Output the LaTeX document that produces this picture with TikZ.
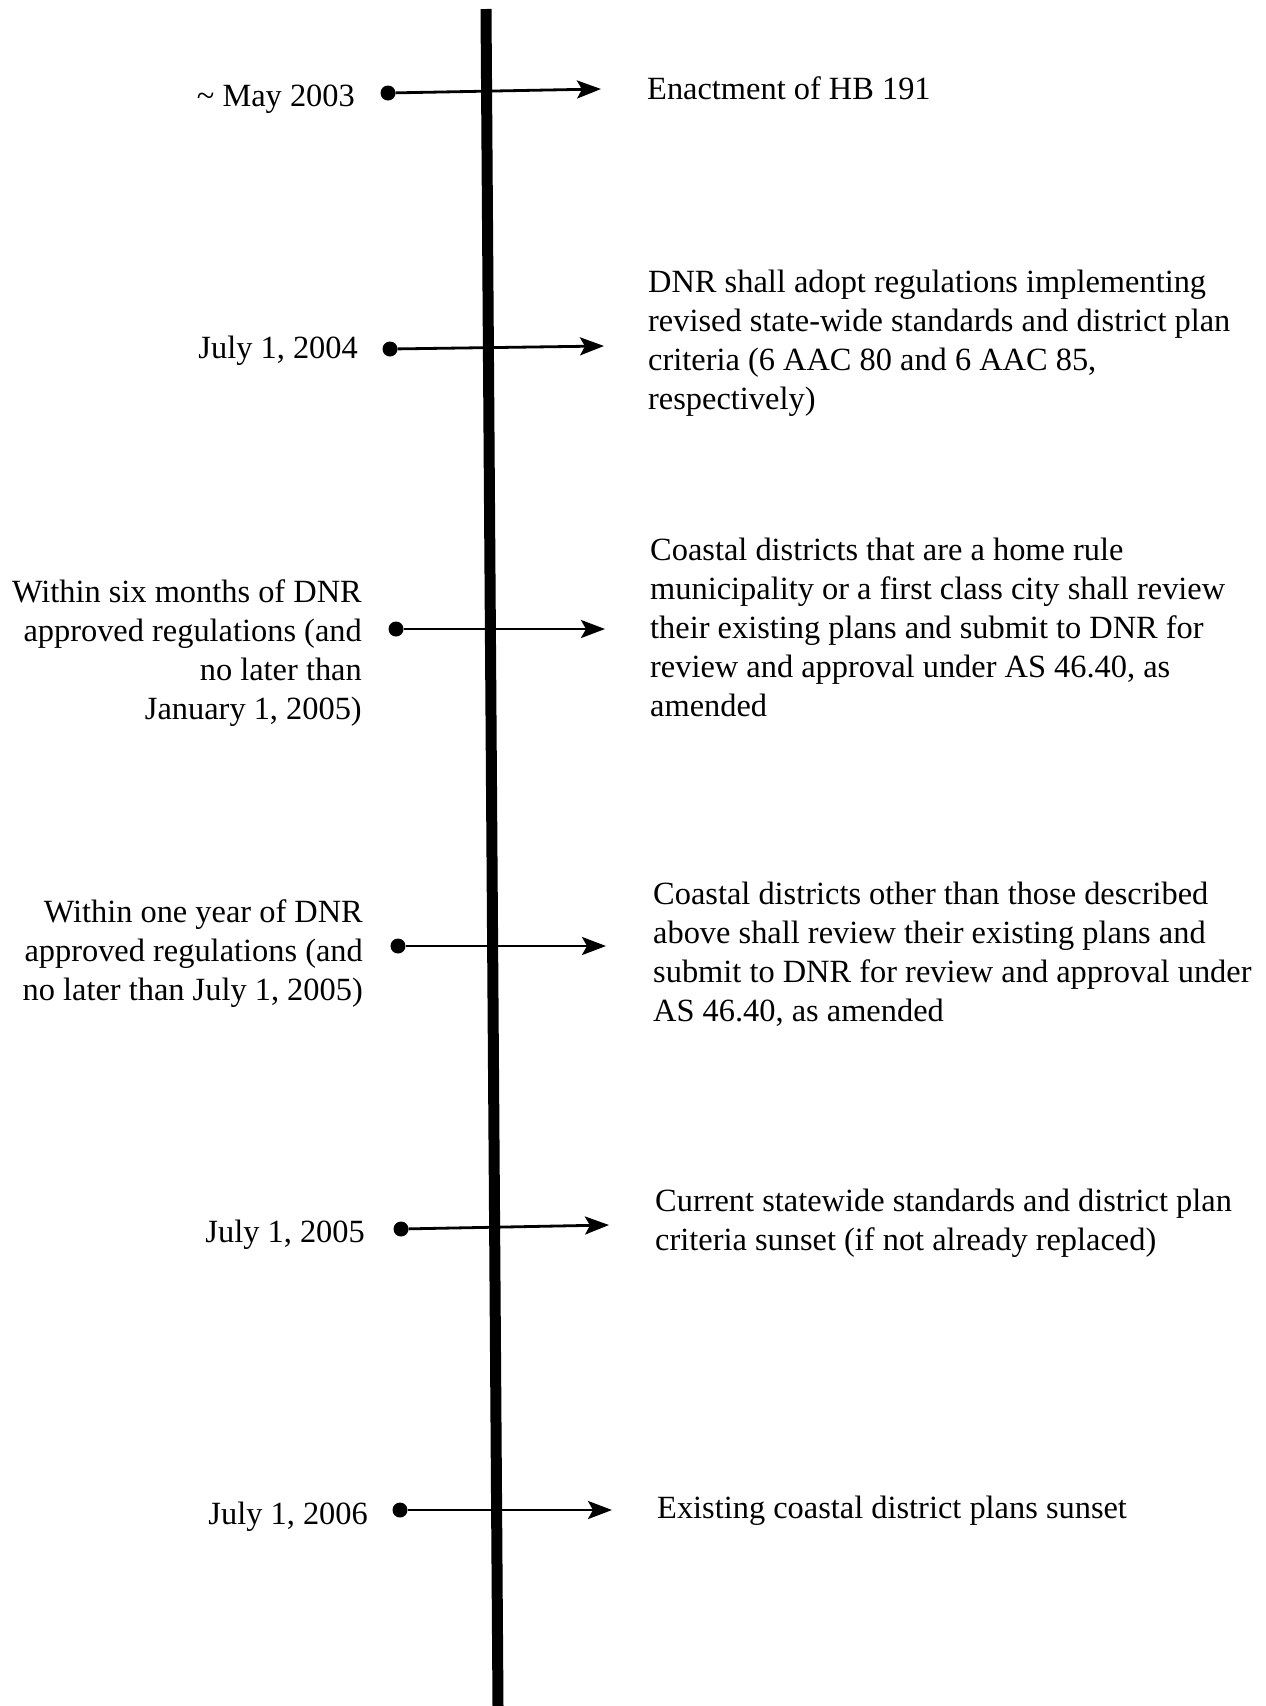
\documentclass[tikz,border=0pt]{standalone}
\usepackage{fontspec}
\setmainfont{Liberation Serif}
\usepackage{tikz}
\usetikzlibrary{
  arrows.meta,
  chains,
  scopes
}

\begin{document}
\begin{tikzpicture}[
      x=1pt, y=-1pt,
      when/.style={
         anchor=base east,
         align=right,
         inner sep=0pt,
         font=\fontsize{32.4}{39}\selectfont
      },
      what/.style={
         anchor=base west,
         align=left,
         inner sep=0pt,
         font=\fontsize{32.4}{39}\selectfont
      },
      dot/.style={circle, fill=black, inner sep=0pt, minimum size=15pt},
      point/.style={coordinate},
      tip/.style={-{Stealth[length=24pt,width=18pt,inset=5pt]}, line width=2.8pt},
      axis/.style={line width=11pt},
    ]
    \useasboundingbox (0,0) rectangle (1266,1706);
    % the time axis
    \coordinate (axtop) at (486,9);
    \coordinate (axbot) at (498,1706);
    \draw[axis] (axtop) -- (axbot);

    % base anchor of a node with several lines = baseline of its last line
    \node (d1) [dot] at (388,93) {};
    \node (t1) [point] at (601,89) {};
    \node (l1) [when] at (355,106) {\textasciitilde\ May 2003};
    \node (r1) [what] at (647,99) {Enactment of HB 191};

    \node (d2) [dot] at (390,349) {};
    \node (t2) [point] at (604,346) {};
    \node (l2) [when] at (358,358) {July 1, 2004};
    \node (r2) [what] at (648,409) {DNR shall adopt regulations implementing\\
      revised state-wide standards and district plan\\
      criteria (6 AAC 80 and 6 AAC 85,\\
      respectively)};

    \node (d3) [dot] at (396,629) {};
    \node (t3) [point] at (605,629) {};
    \node (l3) [when] at (362,719) {Within six months of DNR\\
      approved regulations (and\\
      no later than\\
      January 1, 2005)};
    \node (r3) [what] at (650,716) {Coastal districts that are a home rule\\
      municipality or a first class city shall review\\
      their existing plans and submit to DNR for\\
      review and approval under AS 46.40, as\\
      amended};

    \node (d4) [dot] at (398,946) {};
    \node (t4) [point] at (606,946) {};
    \node (l4) [when] at (363,1000) {Within one year of DNR\\
      approved regulations (and\\
      no later than July 1, 2005)};
    \node (r4) [what] at (653,1021) {Coastal districts other than those described\\
      above shall review their existing plans and\\
      submit to DNR for review and approval under\\
      AS 46.40, as amended};

    \node (d5) [dot] at (401,1229) {};
    \node (t5) [point] at (609,1225) {};
    \node (l5) [when] at (365,1242) {July 1, 2005};
    \node (r5) [what] at (655,1250) {Current statewide standards and district plan\\
      criteria sunset (if not already replaced)};

    \node (d6) [dot] at (400,1510) {};
    \node (t6) [point] at (612,1510) {};
    \node (l6) [when] at (368,1524) {July 1, 2006};
    \node (r6) [what] at (657,1518) {Existing coastal district plans sunset};

  { [start chain]
       \chainin (d1);
       \chainin (t1)    [join=by tip];
  }
  { [start chain]
       \chainin (d2);
       \chainin (t2)    [join=by tip];
  }
  { [start chain]
       \chainin (d3);
       \chainin (t3)    [join=by tip];
  }
  { [start chain]
       \chainin (d4);
       \chainin (t4)    [join=by tip];
  }
  { [start chain]
       \chainin (d5);
       \chainin (t5)    [join=by tip];
  }
  { [start chain]
       \chainin (d6);
       \chainin (t6)    [join=by tip];
  }
\end{tikzpicture}
\end{document}
